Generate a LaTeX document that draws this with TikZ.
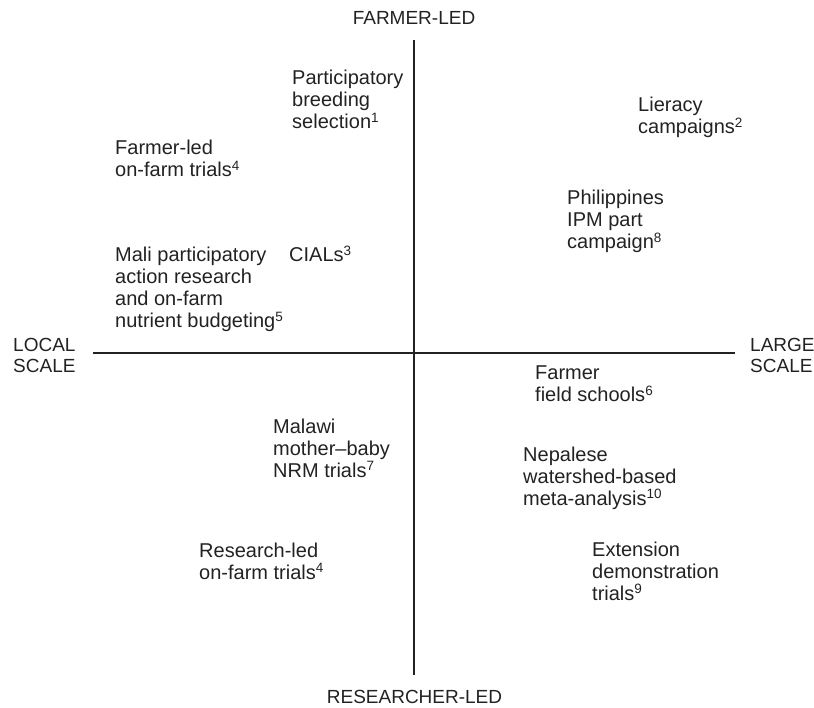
\documentclass[tikz,border=0pt]{standalone}
\usepackage{fontspec}
\setmainfont{Liberation Sans}
\definecolor{ink}{RGB}{34,34,34}
\newcommand\sups[1]{\smash{\raisebox{6.5pt}{\fontsize{13.5}{13.5}\selectfont #1}}}
\newcommand\blk[1]{\begin{tabular}[t]{@{}l@{}}#1\end{tabular}}
\tikzset{
  axisline/.style={line width=1.8pt, draw=ink},
  item/.style={anchor=base west, inner sep=0pt, text=ink, font=\fontsize{20}{22}\selectfont},
  axlbl/.style={inner sep=0pt, text=ink, font=\fontsize{19}{21}\selectfont},
}
\begin{document}
\begin{tikzpicture}[x=1pt,y=-1pt]
\useasboundingbox (0,0) rectangle (814,708);
% axes
\coordinate (top) at (414,40);
\coordinate (bot) at (414,675);
\coordinate (lft) at (93,353);
\coordinate (rgt) at (735,353);
\draw[axisline] (top) -- (bot);
\draw[axisline] (lft) -- (rgt);
% axis labels
\node[axlbl, anchor=base] (farmerled) at (414,25) {FARMER-LED};
\node[axlbl, anchor=base] (researcherled) at (414.5,703) {RESEARCHER-LED};
\node[axlbl, anchor=base west] (localscale) at (13,352) {\blk{LOCAL\\SCALE}};
\node[axlbl, anchor=base west] (largescale) at (750,352) {\blk{LARGE\\SCALE}};
% items
\node[item] (pbs) at (292,85) {\blk{Participatory\\breeding\\selection\sups{1}}};
\node[item] (lit) at (638,112) {\blk{Lieracy\\campaigns\sups{2}}};
\node[item] (flt) at (115,155) {\blk{Farmer-led\\on-farm trials\sups{4}}};
\node[item] (phil) at (567,205) {\blk{Philippines\\IPM part\\campaign\sups{8}}};
\node[item] (mali) at (115,262) {\blk{Mali participatory\\action research\\and on-farm\\nutrient budgeting\sups{5}}};
\node[item] (cials) at (289,262) {CIALs\sups{3}};
\node[item] (ffs) at (535,380) {\blk{Farmer\\field schools\sups{6}}};
\node[item] (malawi) at (273,433) {\blk{Malawi\\mother–baby\\NRM trials\sups{7}}};
\node[item] (nep) at (523,461) {\blk{Nepalese\\watershed-based\\meta-analysis\sups{10}}};
\node[item] (rlt) at (199,557) {\blk{Research-led\\on-farm trials\sups{4}}};
\node[item] (ext) at (592,556) {\blk{Extension\\demonstration\\trials\sups{9}}};
\end{tikzpicture}
\end{document}
